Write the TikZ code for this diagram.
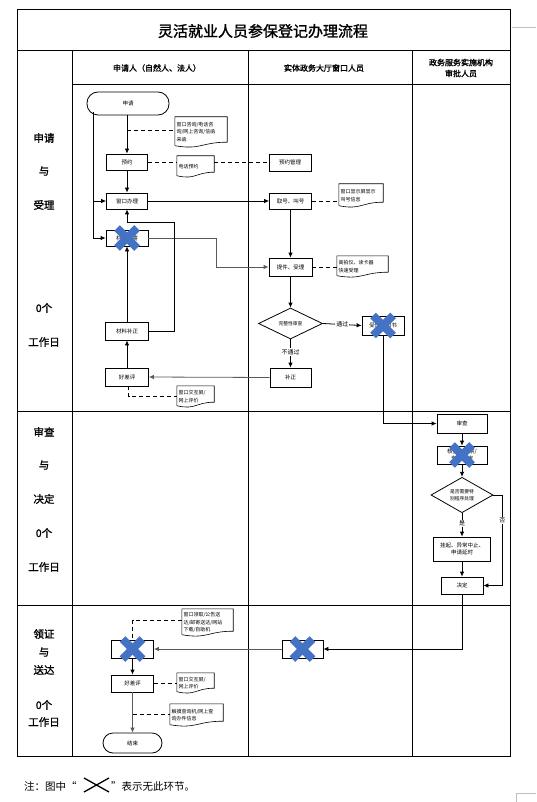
\documentclass[tikz,border=0pt]{standalone}
\usepackage{fontspec}
\setmainfont{Noto Sans CJK SC}[AutoFakeBold=1.5]
\usetikzlibrary{shapes.geometric,arrows.meta}
\definecolor{xblue}{RGB}{68,114,196}

\begin{document}
\begin{tikzpicture}[x=1pt, y=-1pt,
    grid/.style={line width=0.8pt},
    box/.style={draw=black, line width=0.8pt, minimum width=42pt,
        minimum height=17pt, inner sep=0pt, align=center,
        font=\fontsize{5.5}{7}\selectfont},
    term/.style={box, rounded corners=10pt},
    decision/.style={diamond, draw=black, line width=0.8pt,
        minimum width=64pt, minimum height=31pt, inner sep=0pt,
        align=center, font=\fontsize{4.8}{7}\selectfont},
    doc/.style={inner sep=1.5pt, align=left,
        font=\fontsize{5}{7.5}\selectfont},
    docline/.style={line width=0.6pt},
    flow/.style={line width=0.8pt, -{Latex[length=5pt,width=4.5pt]}},
    dashline/.style={line width=0.8pt, dash pattern=on 4pt off 3pt},
    lab/.style={font=\fontsize{10.5}{12}\selectfont\bfseries},
    head/.style={align=center, font=\fontsize{8}{11}\selectfont\bfseries},
    tag/.style={fill=white, inner sep=1pt, font=\fontsize{6}{7}\selectfont},
    xmark/.style={xblue, line width=8pt}
]
    \useasboundingbox (0,0) rectangle (536,802);

    % table
    \draw[grid] (17,9.5) rectangle (510,756);
    \draw[grid] (17,50) -- (510,50);
    \draw[grid] (72.5,84) -- (510,84);
    \draw[grid] (17,411) -- (510,411);
    \draw[grid] (17,605) -- (510,605);
    \draw[grid] (72.5,50) -- (72.5,756);
    \draw[grid] (248,50) -- (248,756);
    \draw[grid] (412.5,50) -- (412.5,756);
    \draw[gray!50, line width=0.5pt] (512,27) -- (536,27);
    \draw[gray!50, line width=0.5pt] (516,802) -- (516,793) -- (536,793);

    \node[font=\fontsize{15}{17}\selectfont\bfseries] (title) at (263,31) {灵活就业人员参保登记办理流程};
    \node[head] (h1) at (157,68) {申请人（自然人、法人）};
    \node[head] (h2) at (324,68) {实体政务大厅窗口人员};
    \node[head] (h3) at (461,68) {政务服务实施机构\\审批人员};

    % stage labels
    \node[lab] (s1a) at (44,138) {申请};
    \node[lab] (s1b) at (44,171) {与};
    \node[lab] (s1c) at (44,205) {受理};
    \node[lab] (s1d) at (44,308) {0个};
    \node[lab] (s1e) at (44,342) {工作日};
    \node[lab] (s2a) at (44,432) {审查};
    \node[lab] (s2b) at (44,465) {与};
    \node[lab] (s2c) at (44,499) {决定};
    \node[lab] (s2d) at (44,533) {0个};
    \node[lab] (s2e) at (44,567) {工作日};
    \node[lab] (s3a) at (44,634) {领证};
    \node[lab] (s3b) at (44,652) {与};
    \node[lab] (s3c) at (44,670) {送达};
    \node[lab] (s3d) at (44,705) {0个};
    \node[lab] (s3e) at (44,722) {工作日};

    % apply and accept
    \node[term, minimum width=82pt, minimum height=23pt, rounded corners=11pt] (apply) at (128,103.5) {申请};
    \node[doc, text width=49pt, minimum height=30pt] (doc1) at (201,132) {窗口咨询/电话咨\\询/网上咨询/信函\\来函};
    \node[box, minimum width=41pt, minimum height=16pt] (book) at (127,162) {预约};
    \node[doc, text width=34pt, minimum height=21pt] (doc2) at (195.5,166.5) {电话预约};
    \node[box] (bookmgr) at (290,162.5) {预约管理};
    \node[box, minimum width=41pt, minimum height=16pt] (window) at (127,201) {窗口办理};
    \node[box, minimum height=16pt] (mail) at (127,238) {材料邮寄};
    \node[box, minimum height=16pt] (ticket) at (290.5,201) {取号、叫号};
    \node[doc, text width=41pt, minimum height=23pt] (doc3) at (361,195.5) {窗口显示屏显示\\叫号信息};
    \node[box, minimum width=43pt, minimum height=18pt] (accept) at (290.5,267) {提件、受理};
    \node[doc, text width=48pt, minimum height=21pt] (doc4) at (362.5,266.5) {高拍仪、读卡器\\快速受理};
    \node[box, minimum width=43pt, minimum height=18pt] (supply) at (127,331) {材料补正};
    \node[box, minimum width=43pt, minimum height=18pt] (rate1) at (127,377) {好差评};
    \node[doc, text width=34pt, minimum height=21pt] (doc5) at (195.5,396.5) {窗口交互屏/\\网上评价};
    \node[decision] (check) at (290.5,323.5) {完整性审查};
    \node[box, minimum height=19pt] (notice) at (383,325.5) {受理通知书};
    \node[box, minimum width=41pt, minimum height=19pt] (fix) at (290.5,377.5) {补正};

    % review and decide
    \node[box, minimum width=50pt, minimum height=19pt] (review) at (462,423.5) {审查};
    \node[box, minimum width=50pt, minimum height=18pt] (verify) at (462,455) {核查、勘察/\\专家评审};
    \node[decision, minimum width=62pt, minimum height=32pt] (special) at (462,495) {是否需要特\\别程序处理};
    \node[box, minimum width=57pt, minimum height=24pt] (suspend) at (462,549) {挂起、异常中止、\\申请延时};
    \node[box, minimum height=17pt] (decide) at (462,585.5) {决定};

    % deliver
    \node[box, minimum width=41pt, minimum height=18pt] (cert) at (302.5,649) {制证};
    \node[box, minimum height=18pt] (deliver) at (132.5,649) {送达};
    \node[doc, text width=48pt, minimum height=27pt] (doc6) at (207.5,622.5) {窗口领取/公告送\\达/邮寄送达/网站\\下载/自助机};
    \node[box, minimum height=17pt] (rate2) at (132.5,683.5) {好差评};
    \node[doc, text width=34pt, minimum height=20pt] (doc7) at (195.5,683) {窗口交互屏/\\网上评价};
    \node[doc, text width=50pt, minimum height=22pt] (doc8) at (196.5,715) {触摸查询机/网上查\\询办件信息};
    \node[term, minimum width=59pt, minimum height=20pt] (finish) at (132.5,743) {结束};

    % document outlines
    \foreach \d in {doc1,doc2,doc3,doc4,doc5,doc6,doc7,doc8}
        \draw[docline] ([yshift=1.5pt]\d.south west) -- (\d.north west) -- (\d.north east)
            -- ([yshift=5pt]\d.south east) .. controls ([yshift=5pt]\d.south) and ([yshift=-3pt]\d.south)
            .. ([yshift=1.5pt]\d.south west);

    % connectors
    \coordinate (rail) at (93,112);
    \coordinate (ask) at (127,130);
    \coordinate (query) at (132.5,714);
    \draw[flow] (apply.south -| book.north) -- (book.north);
    \draw[dashline] (ask) -- (ask -| doc1.west);
    \draw[flow] (book) -- (window);
    \draw[dashline] (book.east) -- (book.east -| doc2.west);
    \draw[dashline] (doc2.east |- bookmgr.west) -- (bookmgr.west);
    \draw[flow] (rail) |- (window.west);
    \draw[flow] (rail) |- (mail.west);
    \draw[flow] (window.east) -- (ticket.west);
    \draw[dashline] (ticket.east) -- (ticket.east -| doc3.west);
    \draw[flow] (ticket) -- (accept);
    \draw[dashline] (accept.east) -- (accept.east -| doc4.west);
    \draw[flow, gray!70!black] (mail.east) -- ++(68,0) |- (accept.west);
    \draw[flow] (accept) -- (check);
    \draw[flow] (check.east) -- node[tag] {通过} (notice.west);
    \draw[flow] (check) -- node[tag, pos=0.45] {不通过} (fix);
    \draw[flow, gray!70!black] (fix.west) -- (rate1.east);
    \draw[flow] (rate1) -- (supply);
    \draw[flow] (supply) -- (mail);
    \draw[flow] (supply.east) -| (174,222) -| (window.south);
    \draw[dashline] ([xshift=1.5pt]rate1.south) |- (doc5.west);
    \draw[flow] (notice.south) |- (review.west);
    \draw[flow] (review) -- (verify);
    \draw[flow] (verify) -- (special);
    \draw[flow] (special) -- node[tag, pos=0.45] {是} (suspend);
    \draw[flow] (suspend) -- (decide);
    \draw[flow] (special.east) -- ++(9,0) |- node[tag, pos=0.14] {否} (decide.east);
    \draw[flow] (decide.south) |- (cert.east);
    \draw[flow, gray!70!black] (cert.west) -- (deliver.east);
    \draw[dashline] (doc6.west |- 0,620) -| (deliver.north);
    \draw[flow] (deliver) -- (rate2);
    \draw[dashline] (rate2.east) -- (rate2.east -| doc7.west);
    \draw[flow, gray!70!black] (rate2) -- (finish);
    \draw[dashline] (query) -- (query -| doc8.west);

    % steps that do not apply
    \foreach \n in {mail,notice,verify,cert,deliver} {
        \draw[xmark] ([shift={(-10,-10)}]\n.center) -- ([shift={(10,10)}]\n.center);
        \draw[xmark] ([shift={(-10,10)}]\n.center) -- ([shift={(10,-10)}]\n.center);
    }

    % note
    \node[anchor=west, inner sep=0pt, font=\fontsize{10.5}{12}\selectfont] (note1) at (24,786) {注：图中“};
    \node[anchor=west, inner sep=0pt, font=\fontsize{10.5}{12}\selectfont] (note2) at (111,786) {”表示无此环节。};
    \draw[line width=1.3pt] (84,778) -- (109,792);
    \draw[line width=1.3pt] (84,792) -- (109,778);
\end{tikzpicture}
\end{document}
